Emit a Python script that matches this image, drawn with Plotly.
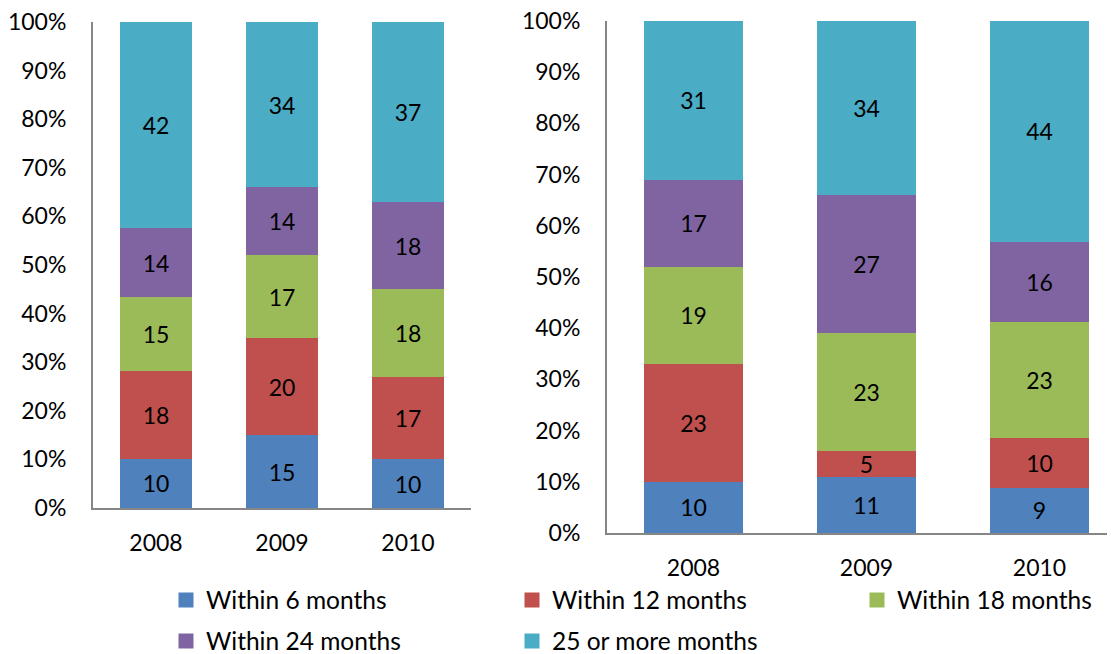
import plotly.graph_objects as go

# page body has an 8px margin, so the figure is drawn 8px in from the window edge
OFF = 8
W, H = 1115 - OFF, 654 - OFF

years = ["2008", "2009", "2010"]
series = ["Within 6 months", "Within 12 months", "Within 18 months",
          "Within 24 months", "25 or more months"]
colors = ["#4F81BD", "#C0504D", "#9BBB59", "#8064A2", "#4BACC6"]

# left panel
left_vals = [
    [10, 15, 10],
    [18, 20, 17],
    [15, 17, 18],
    [14, 14, 18],
    [42, 34, 37],
]
# right panel
right_vals = [
    [10, 11, 9],
    [23, 5, 10],
    [19, 23, 23],
    [17, 27, 16],
    [31, 34, 44],
]

FONT = "Lato, 'Open Sans', sans-serif"
FS = 23
LFS = 24.5

fig = go.Figure()

for i, name in enumerate(series):
    for vals, xa, ya in [(left_vals, "x", "y"), (right_vals, "x2", "y2")]:
        fig.add_trace(go.Bar(
            x=years, y=vals[i], name=name, xaxis=xa, yaxis=ya,
            marker=dict(color=colors[i], line=dict(width=0)),
            text=[str(v) for v in vals[i]], textposition="inside",
            insidetextanchor="middle", constraintext="none", textangle=0,
            textfont=dict(color="black", size=FS, family=FONT),
            showlegend=False, hoverinfo="skip"))

# legend positions (marker left edge, row centre) in window pixels
leg_pos = [(180, 600), (526, 600), (871, 600), (180, 641), (526, 641)]
leg_names = ["legend", "legend2", "legend3", "legend4", "legend5"]

for i, name in enumerate(series):
    fig.add_trace(go.Scatter(
        x=[None], y=[None], mode="markers", name=name,
        marker=dict(symbol="square", size=15, color=colors[i]),
        legend=leg_names[i]))

def px(x):
    return (x - OFF) / W

def py(y):
    return 1 - (y - OFF) / H

axis_common = dict(showgrid=False, zeroline=False, showline=True,
                   linecolor="#868686", linewidth=2, ticks="", automargin=False,
                   ticklabeloverflow="allow",
                   tickfont=dict(size=FS, family=FONT, color="black"))

layout_legs = {}
for i, ln in enumerate(leg_names):
    lx, ly = leg_pos[i]
    layout_legs[ln] = dict(
        x=px(lx - 14), y=py(ly), xanchor="left", yanchor="middle",
        orientation="h", font=dict(size=LFS, family=FONT, color="black"),
        bgcolor="rgba(0,0,0,0)", itemclick=False)

fig.update_layout(
    width=W, height=H, margin=dict(l=0, r=0, t=0, b=0, autoexpand=False),
    paper_bgcolor="white", plot_bgcolor="white",
    barmode="stack", barnorm="percent", bargap=0.43,
    font=dict(family=FONT, size=FS, color="black"),
    xaxis=dict(domain=[px(93), px(471)], range=[-0.5, 2.5], anchor="y",
               ticklabelstandoff=13, **axis_common),
    yaxis=dict(domain=[py(508), py(22)], range=[0, 100], dtick=10,
               ticksuffix="%", anchor="x", ticklabelstandoff=20, **axis_common),
    xaxis2=dict(domain=[px(607), 1], range=[-0.5, -0.5 + (1115 - 607) / 173.0],
                anchor="y2", ticklabelstandoff=13, **axis_common),
    yaxis2=dict(domain=[py(533), py(21)], range=[0, 100], dtick=10,
                ticksuffix="%", anchor="x2", ticklabelstandoff=20, **axis_common),
    **layout_legs,
)

fig.write_html("out.html")
